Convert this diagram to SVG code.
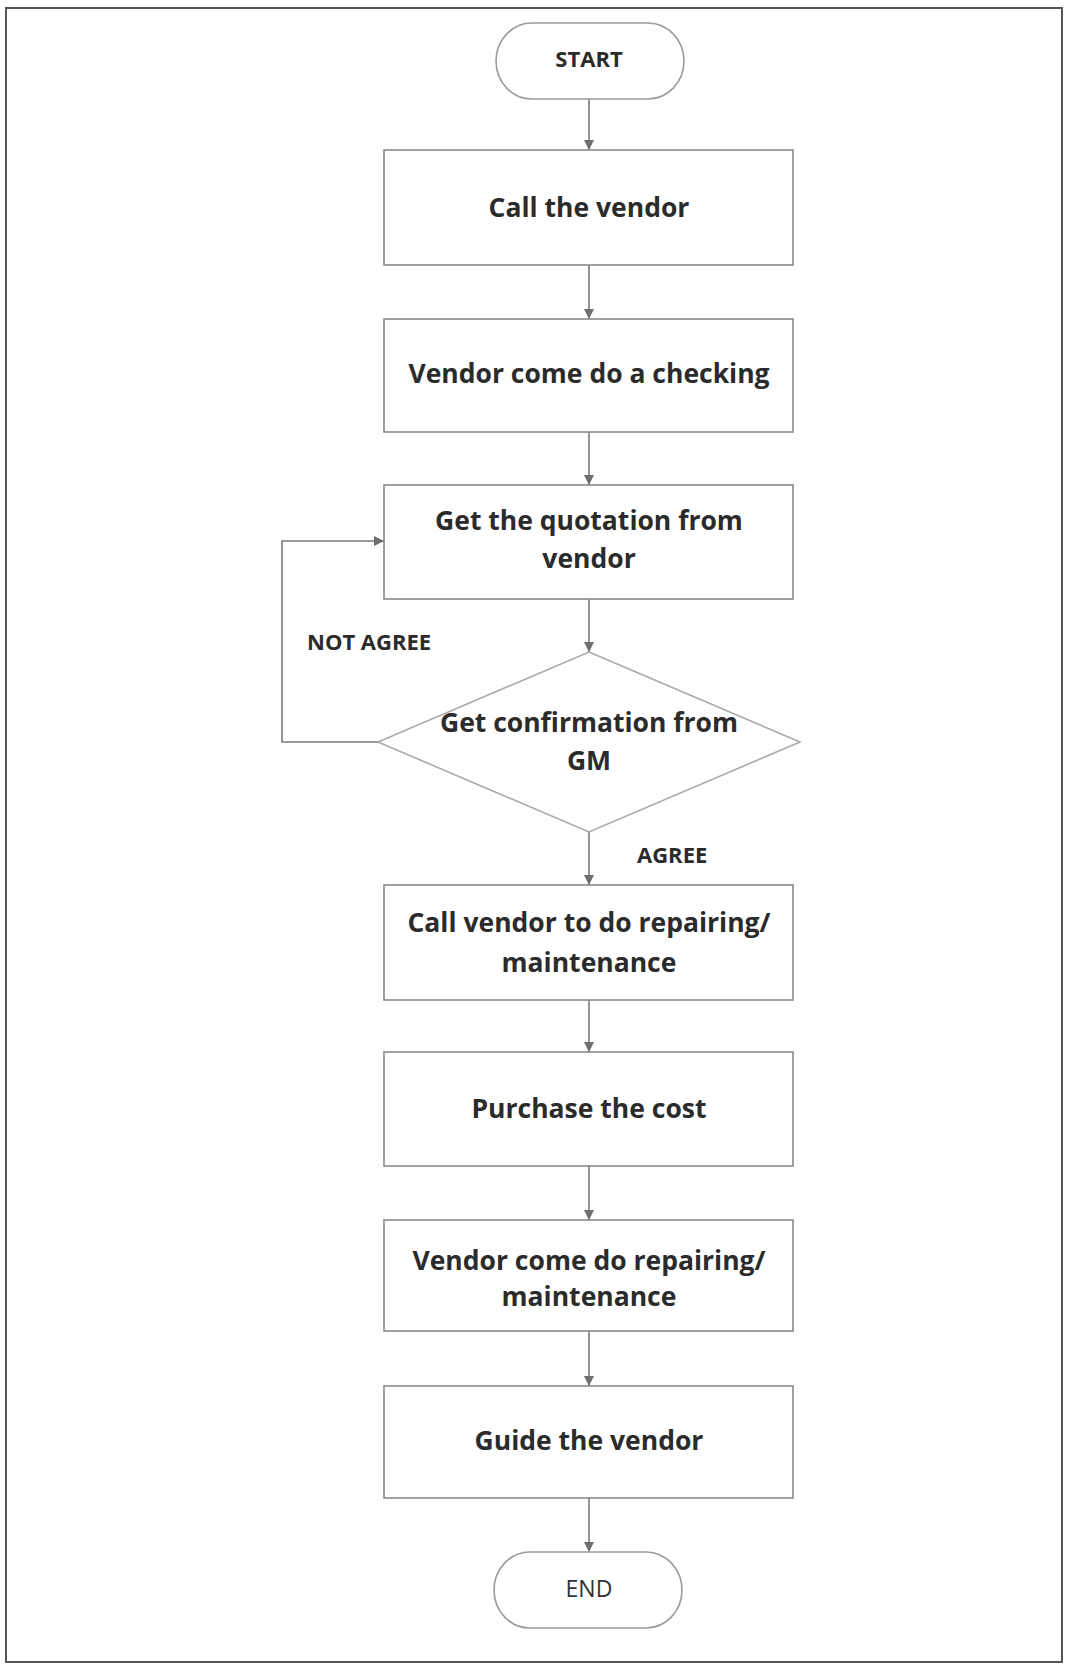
<svg xmlns="http://www.w3.org/2000/svg" width="1065" height="1664" viewBox="0 0 1065 1664">
<style>
.frame{fill:#fff;stroke:#555;stroke-width:2}
.box{fill:#fff;stroke:#8a8a8a;stroke-width:1.6}
.dia{fill:#fff;stroke:#aaa;stroke-width:1.6}
.term{fill:#fff;stroke:#9a9a9a;stroke-width:1.6}
.t{font-family:"Open Sans","Liberation Sans",sans-serif;font-weight:700;font-size:26.5px;fill:#2b2b2b;text-anchor:middle}
.ts{font-family:"Open Sans","Liberation Sans",sans-serif;font-weight:700;font-size:22px;fill:#2b2b2b;text-anchor:middle}
.tr{font-family:"Open Sans","Liberation Sans",sans-serif;font-weight:400;font-size:23px;fill:#333;text-anchor:middle}
.lbl{font-family:"Open Sans","Liberation Sans",sans-serif;font-weight:700;font-size:22px;fill:#2b2b2b}
.c{fill:none;stroke:#7a7a7a;stroke-width:1.6}
</style>
<defs>
<marker id="ah" viewBox="0 0 10 10" refX="10" refY="5" markerWidth="10" markerHeight="10" markerUnits="userSpaceOnUse" orient="auto">
<path d="M0,0 L10,5 L0,10 z" fill="#6e6e6e"/>
</marker>
</defs>
<rect class="frame" x="6" y="8" width="1056" height="1654"/>
<g id="connectors">
<line class="c" x1="589" y1="99" x2="589" y2="150" marker-end="url(#ah)"/>
<line class="c" x1="589" y1="265" x2="589" y2="319" marker-end="url(#ah)"/>
<line class="c" x1="589" y1="432" x2="589" y2="485" marker-end="url(#ah)"/>
<line class="c" x1="589" y1="599" x2="589" y2="652" marker-end="url(#ah)"/>
<line class="c" x1="589" y1="832" x2="589" y2="885" marker-end="url(#ah)"/>
<line class="c" x1="589" y1="1000" x2="589" y2="1052" marker-end="url(#ah)"/>
<line class="c" x1="589" y1="1166" x2="589" y2="1220" marker-end="url(#ah)"/>
<line class="c" x1="589" y1="1331" x2="589" y2="1386" marker-end="url(#ah)"/>
<line class="c" x1="589" y1="1498" x2="589" y2="1552" marker-end="url(#ah)"/>
<polyline class="c" points="378,742 282,742 282,541 384,541" marker-end="url(#ah)"/>
<text class="lbl" x="307" y="650">NOT AGREE</text>
<text class="lbl" x="637" y="863">AGREE</text>
</g>
<g id="start">
<rect class="term" x="496" y="23" width="188" height="76" rx="36" ry="38"/>
<text class="ts" x="589" y="67">START</text>
</g>
<g id="call-vendor">
<rect class="box" x="384" y="150" width="409" height="115"/>
<text class="t" x="589" y="217">Call the vendor</text>
</g>
<g id="vendor-checking">
<rect class="box" x="384" y="319" width="409" height="113"/>
<text class="t" x="589" y="383">Vendor come do a checking</text>
</g>
<g id="quotation">
<rect class="box" x="384" y="485" width="409" height="114"/>
<text class="t" x="589" y="530">Get the quotation from</text>
<text class="t" x="589" y="568">vendor</text>
</g>
<g id="confirmation">
<polygon class="dia" points="589,652 800,742 589,832 378,742"/>
<text class="t" x="589" y="732">Get confirmation from</text>
<text class="t" x="589" y="770">GM</text>
</g>
<g id="call-repair">
<rect class="box" x="384" y="885" width="409" height="115"/>
<text class="t" x="589" y="932">Call vendor to do repairing/</text>
<text class="t" x="589" y="972">maintenance</text>
</g>
<g id="purchase">
<rect class="box" x="384" y="1052" width="409" height="114"/>
<text class="t" x="589" y="1118">Purchase the cost</text>
</g>
<g id="vendor-repair">
<rect class="box" x="384" y="1220" width="409" height="111"/>
<text class="t" x="589" y="1270">Vendor come do repairing/</text>
<text class="t" x="589" y="1306">maintenance</text>
</g>
<g id="guide">
<rect class="box" x="384" y="1386" width="409" height="112"/>
<text class="t" x="589" y="1450">Guide the vendor</text>
</g>
<g id="end">
<rect class="term" x="494" y="1552" width="188" height="76" rx="36" ry="38"/>
<text class="tr" x="589" y="1597">END</text>
</g>
</svg>
